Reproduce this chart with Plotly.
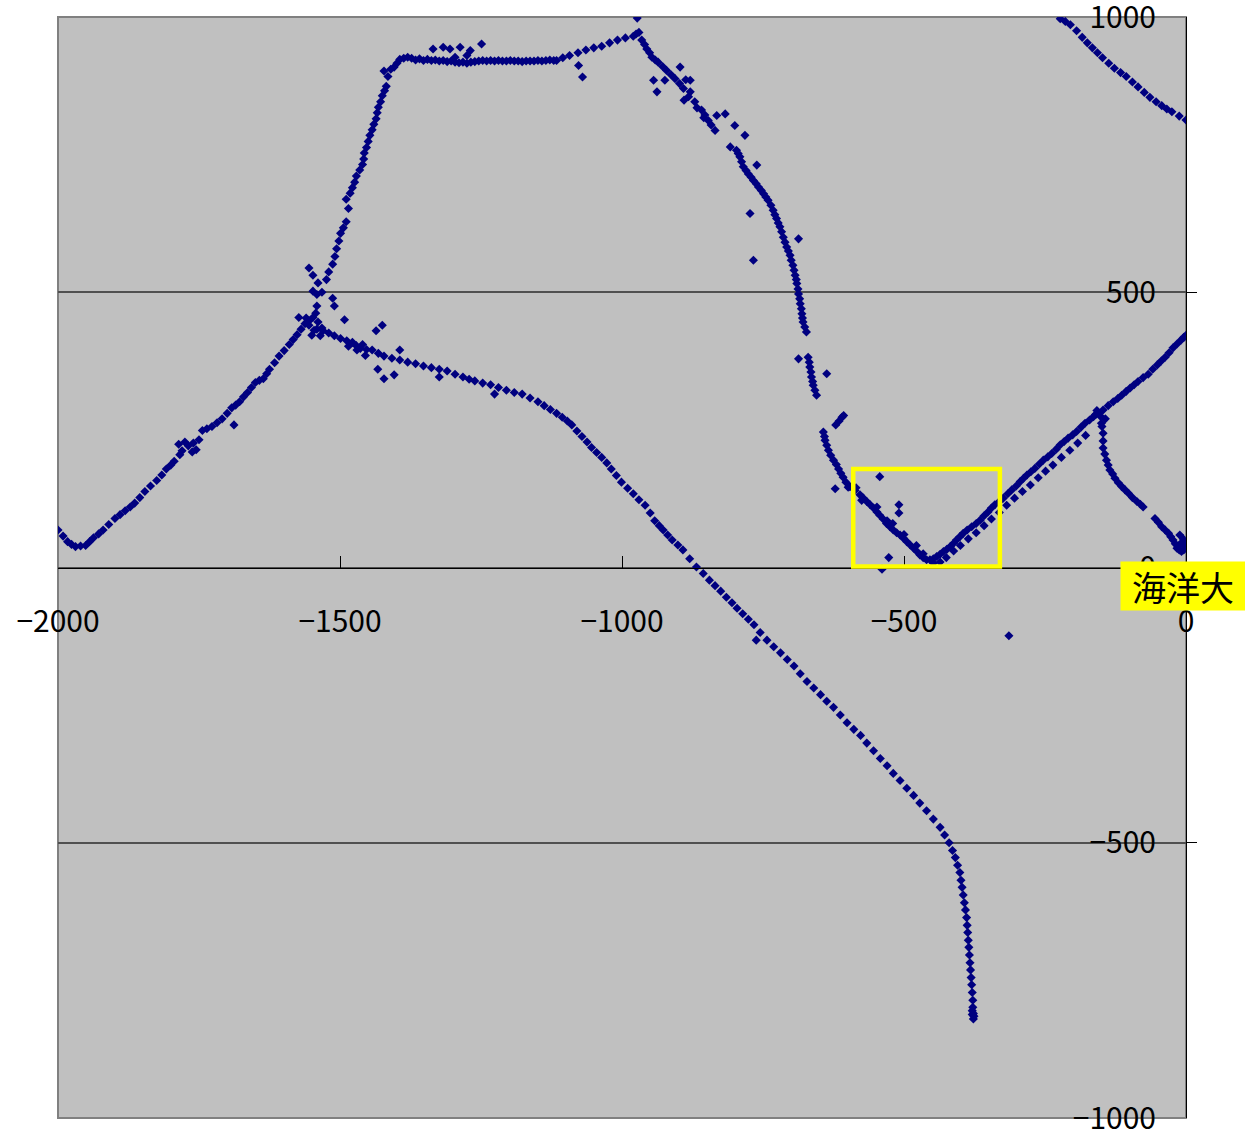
import plotly.graph_objects as go

# ---- tick values ----
x_ticks = [-2000, -1500, -1000, -500, 0]
y_ticks = [-1000, -500, 0, 500, 1000]

# ---- track A: south-west arc up to the junction ----
track_a_x = [-2000, -1991, -1983, -1976, -1969, -1960, -1951, -1944, -1937, -1928, -1920, -1910, -1899, -1890,
             -1881, -1872, -1864, -1855, -1846, -1836, -1825, -1816, -1808, -1800, -1794, -1786, -1784, -1780,
             -1775, -1769, -1762, -1760, -1755, -1750, -1744, -1736, -1727, -1718, -1709, -1700, -1692, -1685,
             -1678, -1671, -1664, -1657, -1650, -1643, -1636, -1630, -1625, -1616, -1608, -1599, -1590, -1583,
             -1576, -1569, -1562, -1555, -1548,
             -1555, -1546, -1539, -1532, -1550, -1535, -1560, -1543, -1573, -1541, -1510, -1513, -1688]
track_a_y = [68, 57, 47, 42, 38, 39, 40, 47, 54, 61, 68, 78, 89, 96,
             103, 110, 117, 127, 138, 148, 158, 168, 179, 186, 193, 224, 205, 212,
             228, 221, 210, 226, 214, 232, 249, 252, 256, 263, 270, 280, 290, 295,
             301, 310, 318, 327, 336, 340, 343, 352, 360, 372, 384, 394, 405, 414,
             423, 433, 443, 448, 454,
             440, 431, 446, 435, 422, 421, 453, 462, 454, 496, 475, 489, 259]

# ---- track B: long southern track ----
track_b_x = [-1541, -1530, -1520, -1510, -1499, -1488, -1478, -1471, -1464, -1453, -1443, -1432, -1422, -1408,
             -1394, -1380, -1366, -1352, -1338, -1324, -1310, -1296, -1282, -1271, -1261, -1247, -1233, -1219,
             -1205, -1191, -1177, -1163, -1149, -1138, -1127, -1116, -1106, -1097, -1089, -1080, -1071, -1062,
             -1054, -1045, -1036, -1027, -1019, -1010, -1001, -990, -980, -970, -959, -950, -942, -934, -927,
             -919, -911, -901, -892, -880, -868, -856, -845, -835, -825, -815, -805, -796, -786, -776, -766,
             -755, -743, -731, -719, -707, -695, -684, -672, -660, -648, -637, -625, -613, -601, -589, -577,
             -566, -554, -542, -530, -519, -507, -495, -483, -472, -460, -448, -436, -428, -420, -414, -409,
             -405, -401, -399, -397, -395, -393, -391, -389, -388, -387, -386, -385, -384, -383, -382, -381,
             -380, -379, -378, -378, -377, -377, -379, -376, -379,
             -1433, -1422, -1404, -1436, -1425, -1324, -1226, -1492, -1394, -1470, -1455, -1485, -1460, -762]
track_b_y = [433, 430, 426, 421, 416, 412, 409, 403, 398, 396, 395, 389, 384, 380,
             377, 373, 370, 366, 363, 360, 357, 351, 346, 342, 339, 335, 332, 327,
             322, 318, 315, 308, 301, 294, 287, 280, 273, 266, 259, 248, 238, 228,
             218, 209, 200, 190, 179, 167, 155, 144, 134, 123, 113, 99, 85, 76, 68,
             59, 50, 41, 32, 16, 1, -11, -23, -33, -43, -54, -64, -74, -84, -94, -104,
             -118, -132, -144, -155, -167, -179, -193, -207, -219, -231, -243, -254, -268, -282, -294, -305,
             -319, -333, -347, -360, -374, -387, -401, -414, -428, -442, -457, -472, -486, -500, -514, -527,
             -541, -554, -568, -581, -595, -609, -622, -636, -650, -663, -677, -690, -704, -718, -731, -745,
             -758, -772, -786, -799, -810, -820, -812, -815, -805,
             360, 343, 350, 430, 440, 346, 315, 450, 395, 395, 385, 402, 405, -132]

# ---- track C: climb to the north and the flat ridge ----
track_c_x = [-1541, -1548, -1548, -1539, -1532, -1524, -1520, -1513, -1509, -1506, -1502, -1499, -1494, -1489,
             -1485, -1489, -1482, -1478, -1474, -1471, -1465, -1460, -1458, -1457, -1453, -1450, -1447, -1443,
             -1440, -1436, -1434, -1432, -1428, -1425, -1421, -1418, -1415, -1422, -1410, -1404, -1399, -1394,
             -1387, -1380,
             -1373, -1366, -1359, -1352, -1345, -1338, -1331, -1324, -1317, -1310, -1303, -1296, -1289, -1282,
             -1275, -1268, -1261, -1254, -1247, -1240, -1233, -1226, -1219, -1212, -1205, -1198, -1191, -1184,
             -1177, -1170, -1163, -1156, -1149, -1142, -1135, -1128, -1121, -1116,
             -1335, -1317, -1305, -1287, -1269, -1249, -1296, -1275,
             -1105, -1093, -1078, -1064, -1050, -1036, -1022, -1008, -994, -980, -975, -970,
             -1555, -1077, -1070, -973]
track_c_y = [475, 502, 531, 517, 500, 523, 537, 551, 565, 579, 593, 607, 617, 628,
             652, 669, 680, 690, 700, 711, 722, 732, 742, 753, 763, 774, 785, 795,
             805, 815, 826, 836, 846, 857, 866, 874, 892, 902, 905, 909, 916, 923,
             925, 927,
             925, 922, 924, 921, 923, 921, 922, 920, 921, 919, 920, 918, 917, 918,
             916, 918, 919, 920, 921, 920, 921, 920, 921, 920, 920, 921, 920, 920,
             919, 920, 920, 920, 921, 920, 921, 922, 921, 921,
             942, 945, 942, 945, 939, 951, 927, 930,
             926, 930, 935, 940, 944, 947, 953, 958, 962, 965, 969, 972,
             544, 912, 891, 998]

# ---- track D: descent to the south-east ----
track_d_x = [-965, -960, -956, -951, -947, -941, -936, -928, -921, -913, -906, -898, -891, -887, -879, -882,
             -890, -871, -867, -859, -855, -853, -847, -842, -835,
             -797, -794, -791, -788, -785, -780, -776, -771, -767, -762, -758, -753, -749, -745, -741, -736,
             -732, -729, -726, -723, -720, -717, -714, -711, -708, -705, -702, -700, -697, -695, -693, -691,
             -690, -688, -687, -685, -684, -682, -681, -680, -679, -676, -673,
             -670, -668, -667, -665, -664, -662, -661, -658, -655,
             -621, -615, -610, -607,
             -643, -641, -640, -637, -634, -630, -625, -620, -616, -612, -608, -603, -599,
             -944, -938, -924, -897, -879, -832, -817, -800, -782, -808, -773, -767, -687, -761, -637, -687, -622]
track_d_y = [958, 950, 942, 935, 927, 922, 918, 910, 903, 895, 888, 879, 870, 886, 864, 855,
             849, 846, 835, 831, 817, 822, 812, 804, 794,
             758, 752, 746, 737, 728, 721, 715, 709, 703, 697, 691, 685, 679, 673, 667, 658,
             649, 641, 634, 626, 619, 610, 600, 591, 582, 575, 567, 558, 549, 540, 531, 523,
             516, 506, 497, 488, 479, 470, 461, 453, 446, 437, 428,
             382, 373, 364, 355, 346, 338, 331, 322, 313,
             259, 266, 273, 276,
             246, 238, 231, 222, 213, 204, 195, 187, 179, 171, 164, 155, 146,
             885, 864, 885, 909, 885, 821, 824, 803, 785, 764, 643, 558, 597, 731, 352, 379, 143]

# ---- track E: the V near the box and the run north-east to the campus ----
track_e_x = [-596, -587, -578, -572, -566, -560, -554, -548, -543, -537, -531, -525, -519, -513, -507, -501,
             -495, -489, -483, -477, -472, -466, -460, -454, -448, -442, -436, -430, -424, -418, -412, -407,
             -401, -395, -388, -380, -372, -365, -358, -351, -345, -339, -331, -324, -316, -309, -301, -294,
             -288, -282, -275, -268, -260, -253, -245, -238, -230, -223, -216, -209, -201, -194, -186, -179,
             -171, -164, -155, -147, -138, -129, -121, -114, -106, -99, -92, -85, -76, -67, -59, -51, -44,
             -37, -30, -23, -16, -9, -4, 0,
             -436, -448, -425, -412, -400, -386, -372, -358, -345, -331, -318, -304, -290, -276, -262, -249,
             -236, -221, -206, -192, -178,
             -585, -575, -548, -530, -520, -500, -478, -466,
             -152, -158, -150, -143, -160,
             -543, -509, -509, -539, -527, -314]
track_e_y = [147, 140, 132, 126, 120, 114, 108, 101, 95, 88, 80, 74, 68, 63, 59, 53,
             47, 41, 35, 29, 23, 18, 14, 14, 16, 20, 24, 29, 33, 38, 44, 50,
             56, 62, 68, 74, 80, 86, 94, 101, 108, 114, 120, 126, 134, 141, 148, 156,
             162, 168, 174, 180, 188, 195, 201, 207, 215, 223, 229, 235, 241, 247, 255, 262,
             268, 274, 280, 286, 294, 301, 307, 313, 320, 326, 332, 338, 345, 351, 360, 368, 375,
             382, 390, 399, 406, 413, 418, 422,
             10, 8, 18, 30, 40, 52, 63, 76, 88, 100, 113, 126, 138, 150, 163, 175,
             186, 200, 213, 226, 240,
             145, 122, 110, 85, 80, 60, 40, 25,
             275, 285, 262, 270, 278,
             165, 114, 99, -3, 18, -124]

# ---- track F: eastern branch down to the campus ----
track_f_x = [-149, -147, -147, -147, -144, -141, -138, -135, -130, -126, -120, -114, -108, -102, -95, -87,
             -81, -76, -55, -49, -43, -37, -31, -27, -23, -19, -16, -12, -8, -4, -1, 0, -5, -11, -8, -12]
track_f_y = [256, 244, 230, 217, 206, 195, 186, 177, 170, 162, 154, 147, 141, 135, 127, 120,
             115, 110, 89, 82, 74, 68, 62, 56, 50, 43, 35, 32, 29, 32, 38, 44, 52, 59, 45, 40]

# ---- track G: north-east corner ----
track_g_x = [-223, -214, -205, -194, -184, -175, -166, -157, -148, -137, -127, -116, -106, -95, -85, -74,
             -64, -53, -43, -34, -25, -12, 0]
track_g_y = [997, 992, 986, 975, 963, 953, 944, 935, 926, 916, 907, 899, 892, 882, 873, 863,
             854, 846, 839, 833, 828, 820, 813]

tracks = [(track_a_x, track_a_y), (track_b_x, track_b_y), (track_c_x, track_c_y),
          (track_d_x, track_d_y), (track_e_x, track_e_y), (track_f_x, track_f_y),
          (track_g_x, track_g_y)]

# highlighted box and label
box_x = [-590, -330]
box_y = [2, 179]
label_text = "海洋大"

FONT = "Noto Sans CJK JP"

fig = go.Figure()
for xs, ys in tracks:
    fig.add_trace(go.Scatter(
        x=xs, y=ys, mode="markers",
        marker=dict(symbol="diamond", size=7, color="#000080", line=dict(width=0)),
        showlegend=False, hoverinfo="skip"))

fig.update_layout(
    width=1245, height=1138,
    margin=dict(l=58, r=59, t=17, b=20, autoexpand=False),
    paper_bgcolor="white", plot_bgcolor="#C0C0C0",
    font=dict(family=FONT, size=30, color="black"),
    xaxis=dict(range=[-2000, 0], anchor="free", position=0.5, automargin=False,
               showline=True, linecolor="black", linewidth=1,
               ticks="inside", ticklen=12, tickcolor="black", tickwidth=1,
               tickmode="array", tickvals=x_ticks, ticklabeloverflow="allow",
               showgrid=False, zeroline=False, ticklabelstandoff=27),
    yaxis=dict(range=[-1000, 1000], anchor="free", position=1, side="left", automargin=False,
               showline=True, linecolor="black", linewidth=1,
               ticks="inside", ticklen=10, tickcolor="black", tickwidth=1,
               tickmode="array", tickvals=y_ticks, ticklabeloverflow="allow",
               showgrid=True, gridcolor="#505050", gridwidth=1.5,
               zeroline=False, ticklabelstandoff=24),
    shapes=[
        dict(type="rect", xref="paper", yref="paper", x0=0, x1=1, y0=0, y1=1,
             line=dict(color="#808080", width=2), layer="below"),
        dict(type="rect", xref="x", yref="y", x0=box_x[0], x1=box_x[1], y0=box_y[0], y1=box_y[1],
             line=dict(color="#FFFF00", width=4.5), layer="above"),
    ],
    annotations=[
        dict(text=label_text, xref="paper", yref="paper", x=0.9973, y=0.4832,
             xanchor="center", yanchor="middle", showarrow=False,
             bgcolor="#FFFF00", width=120, height=44, borderpad=2,
             font=dict(family=FONT, size=34, color="black")),
    ],
)

fig.write_html("out.html", config={"displayModeBar": False},
               post_script="document.body.style.margin='0';")
